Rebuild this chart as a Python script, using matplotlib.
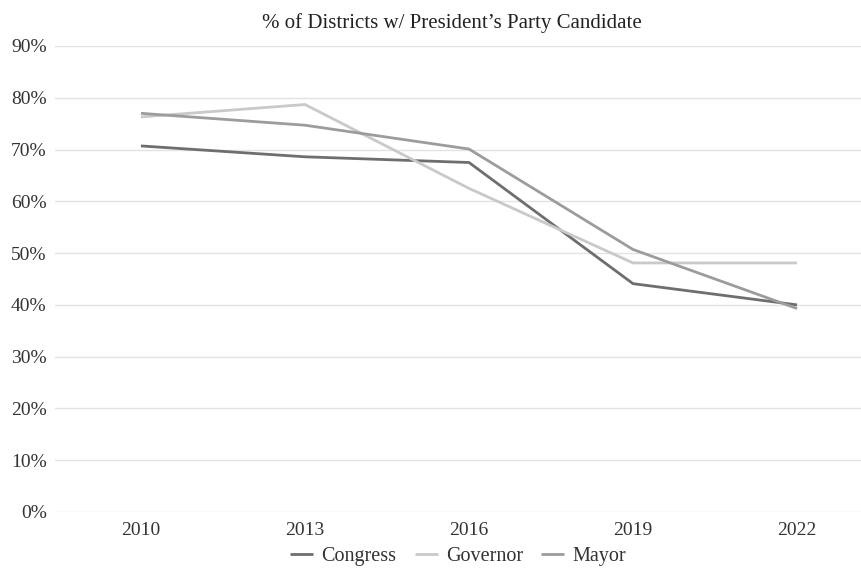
import matplotlib
matplotlib.use("Agg")
import matplotlib.pyplot as plt
from matplotlib.ticker import FuncFormatter

plt.rcParams['font.family'] = ['Liberation Serif', 'DejaVu Serif']

years = ["2010", "2013", "2016", "2019", "2022"]
congress = [70.7, 68.6, 67.5, 44.1, 40.0]
governor = [76.3, 78.7, 62.5, 48.1, 48.1]
mayor = [77.0, 74.7, 70.1, 50.7, 39.3]
yticks = [0, 10, 20, 30, 40, 50, 60, 70, 80, 90]

W, H = 862, 571
fig = plt.figure(figsize=(W / 100, H / 100), dpi=100)
ax = fig.add_axes([55 / W, 1 - 512 / H, 828 / W, (512 - 46) / H])

x = list(range(len(years)))
ax.plot(x, congress, color="#6e6e6e", lw=2.0, label="Congress", solid_capstyle="butt")
ax.plot(x, governor, color="#c9c9c9", lw=2.0, label="Governor", solid_capstyle="butt")
ax.plot(x, mayor, color="#9c9c9c", lw=2.0, label="Mayor", solid_capstyle="butt")

ax.set_xlim(-0.524, 4.524)
ax.set_ylim(0, 90)
ax.set_xticks(x)
ax.set_xticklabels(years)
ax.set_yticks(yticks)
ax.yaxis.set_major_formatter(FuncFormatter(lambda v, p: f"{int(v)}%"))
ax.tick_params(axis="both", length=0, labelsize=14, colors="#333333")
ax.tick_params(axis="y", pad=6)
ax.tick_params(axis="x", pad=7)
ax.grid(axis="y", color="#e3e3e3", lw=1.0)
ax.set_axisbelow(True)
for s in ax.spines.values():
    s.set_visible(False)

fig.text(452 / W, 1 - 23 / H, "% of Districts w/ President\u2019s Party Candidate",
         ha="center", va="center", fontsize=15, color="#222222")

fig.legend(loc="center", bbox_to_anchor=(458 / W, 1 - 556 / H), ncol=3, frameon=False,
           fontsize=14.5, handlelength=1.15, handletextpad=0.4, columnspacing=0.9,
           labelcolor="#333333")

fig.savefig("out.png", dpi=100)
